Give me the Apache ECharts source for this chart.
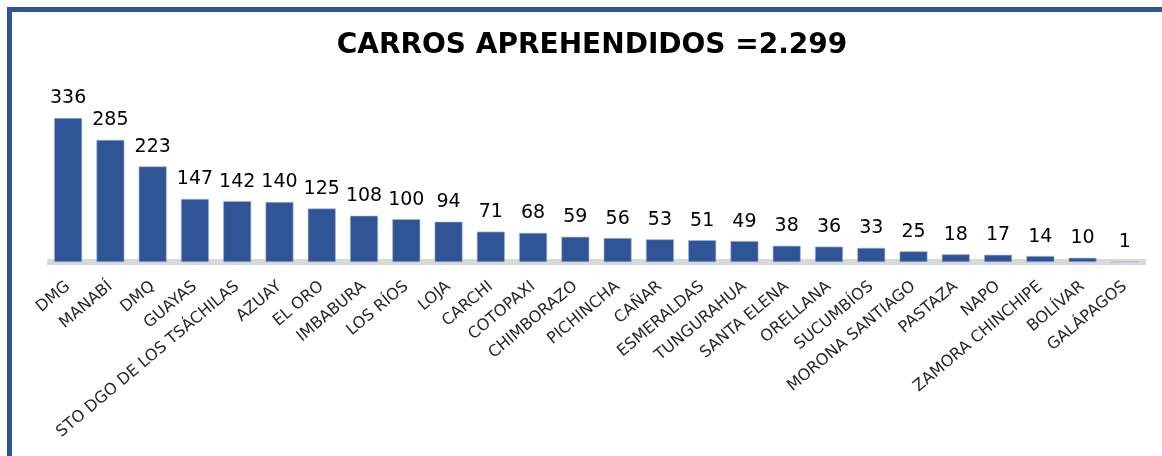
<!DOCTYPE html>
<html>
<head>
<meta charset="utf-8">
<script src="https://cdn.jsdelivr.net/npm/echarts@6/dist/echarts.min.js"></script>
<style>
  html, body { margin: 0; padding: 0; background: #fff; }
  #chart { width: 1162px; height: 456px; }
  /* marco azul arriba e izquierda */
  #frame {
    position: absolute; left: 7px; top: 7px; right: 0; bottom: 0;
    border-top: 5px solid #2f5597; border-left: 5px solid #2f5597;
    pointer-events: none;
  }
</style>
</head>
<body>
<div id="chart"></div>
<div id="frame"></div>
<script>
// provincias / zonas
var provincias = [
  "DMG", "MANABÍ", "DMQ", "GUAYAS", "STO DGO DE LOS TSÁCHILAS", "AZUAY",
  "EL ORO", "IMBABURA", "LOS RÍOS", "LOJA", "CARCHI", "COTOPAXI",
  "CHIMBORAZO", "PICHINCHA", "CAÑAR", "ESMERALDAS", "TUNGURAHUA",
  "SANTA ELENA", "ORELLANA", "SUCUMBÍOS", "MORONA SANTIAGO", "PASTAZA",
  "NAPO", "ZAMORA CHINCHIPE", "BOLÍVAR", "GALÁPAGOS"
];
// carros aprehendidos
var carros = [336, 285, 223, 147, 142, 140, 125, 108, 100, 94, 71, 68,
  59, 56, 53, 51, 49, 38, 36, 33, 25, 18, 17, 14, 10, 1];
var titulo = "CARROS APREHENDIDOS =2.299";

var chart = echarts.init(document.getElementById("chart"));

var option = {
  animation: false,
  title: {
    text: titulo,
    left: 587,
    textAlign: "center",
    top: 27,
    textStyle: {
      fontFamily: "DejaVu Sans",
      fontWeight: "bold",
      fontSize: 28,
      color: "#000"
    }
  },
  grid: {
    left: 47,
    right: 16,
    top: 90.6,
    bottom: 190.5
  },
  xAxis: {
    type: "category",
    data: provincias,
    axisTick: { show: false },
    axisLine: {
      lineStyle: { color: "#d9d9d9", width: 6, cap: "butt" }
    },
    axisLabel: {
      interval: 0,
      rotate: 40,
      margin: 19,
      fontFamily: "DejaVu Sans",
      fontSize: 16,
      color: "#262626"
    }
  },
  yAxis: {
    type: "value",
    min: -8,
    max: 400,
    show: false,
    splitLine: { show: false }
  },
  series: [
    {
      type: "bar",
      data: carros,
      barCategoryGap: "34%",
      itemStyle: {
        color: "#2f5597",
        borderColor: "#9fb4da",
        borderWidth: 0.6
      },
      label: {
        show: true,
        position: "top",
        distance: 10,
        fontFamily: "DejaVu Sans",
        fontSize: 19,
        color: "#000"
      }
    }
  ]
};

chart.setOption(option);
</script>
</body>
</html>
